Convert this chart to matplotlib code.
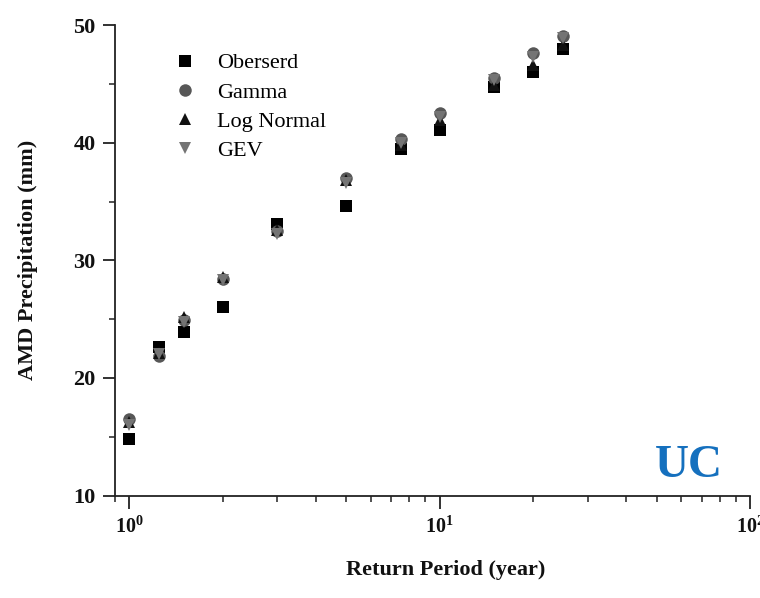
import matplotlib
matplotlib.use("Agg")
import matplotlib.pyplot as plt
from matplotlib.ticker import LogLocator, MultipleLocator, NullFormatter

return_period = [1, 1.25, 1.5, 2, 3, 5, 7.5, 10, 15, 20, 25]
observed = [14.8, 22.6, 23.9, 26.0, 33.1, 34.6, 39.5, 41.1, 44.7, 46.0, 48.0]
gamma = [16.5, 21.9, 24.9, 28.4, 32.5, 37.0, 40.3, 42.5, 45.5, 47.6, 49.1]
log_normal = [16.3, 22.1, 25.2, 28.6, 32.6, 36.8, 39.8, 41.9, 44.9, 46.6, 48.3]
gev = [16.0, 22.0, 24.8, 28.3, 32.2, 36.6, 40.0, 42.2, 45.3, 47.3, 48.9]

series = [
    ("Oberserd", observed, "s", "#000000", 8.0),
    ("Gamma", gamma, "o", "#575757", 9.0),
    ("Log Normal", log_normal, "^", "#111111", 9.0),
    ("GEV", gev, "v", "#747474", 9.0),
]

plt.rcParams["font.family"] = ["Liberation Serif", "DejaVu Serif"]

fig = plt.figure(figsize=(7.6, 5.98), dpi=100)
ax = fig.add_axes([0.1513, 0.1712, 0.8355, 0.7868])

for name, vals, mk, col, ms in series:
    ax.plot(return_period, vals, linestyle="none", marker=mk, color=col,
            markersize=ms, markeredgewidth=0, label=name)

ax.set_xscale("log")
ax.set_xlim(0.9, 100)
ax.set_ylim(10, 50)
ax.xaxis.set_major_locator(LogLocator(base=10, numticks=5))
ax.xaxis.set_minor_locator(LogLocator(base=10, subs=range(2, 10), numticks=20))
ax.xaxis.set_minor_formatter(NullFormatter())
ax.yaxis.set_major_locator(MultipleLocator(10))
ax.yaxis.set_minor_locator(MultipleLocator(5))

for s in ["top", "right"]:
    ax.spines[s].set_visible(False)
for s in ["left", "bottom"]:
    ax.spines[s].set_linewidth(1.3)
    ax.spines[s].set_color("#222222")

ax.tick_params(which="major", direction="out", length=9, width=1.3, colors="#222222")
ax.tick_params(which="minor", direction="out", length=4.5, width=1.1, colors="#222222")
ax.tick_params(axis="y", which="major", labelsize=16, labelcolor="#111111", pad=5)
ax.tick_params(axis="x", which="major", labelsize=14.5, labelcolor="#111111", pad=6)
for lab in ax.get_xticklabels() + ax.get_yticklabels():
    lab.set_fontweight("bold")

ax.set_xlabel("Return Period (year)", fontsize=16, fontweight="bold", color="#111111")
ax.set_ylabel("AMD Precipitation (mm)", fontsize=16, fontweight="bold", color="#111111")
ax.xaxis.set_label_coords(0.521, -0.158)
ax.yaxis.set_label_coords(-0.137, 0.5)
ax.xaxis.label.set_va("center")
ax.yaxis.label.set_va("center")

leg = ax.legend(loc="upper left", bbox_to_anchor=(0.0787, 0.960), frameon=False,
                prop={"size": 16}, handletextpad=0.94, labelspacing=0.39,
                handlelength=1.0, borderaxespad=0.0, borderpad=0.4)

ax.text(0.957, 0.018, "UC", transform=ax.transAxes, fontsize=34, fontweight="bold",
        color="#1570BE", ha="right", va="bottom")

fig.savefig("out.png", dpi=100)
